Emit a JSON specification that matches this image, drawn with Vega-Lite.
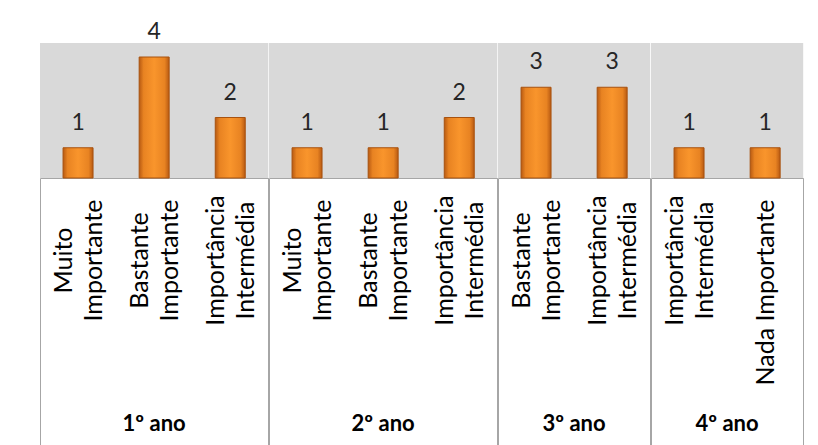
{
  "$schema": "https://vega.github.io/schema/vega-lite/v6.json",
  "background": "white",
  "padding": {"left": 28, "top": 21, "right": 17, "bottom": 0},
  "bounds": "flush",
  "data": {"values": [
    {"year": "1º ano", "cat": "Muito Importante", "value": 1},
    {"year": "1º ano", "cat": "Bastante Importante", "value": 4},
    {"year": "1º ano", "cat": "Importância Intermédia", "value": 2},
    {"year": "2º ano", "cat": "Muito Importante", "value": 1},
    {"year": "2º ano", "cat": "Bastante Importante", "value": 1},
    {"year": "2º ano", "cat": "Importância Intermédia", "value": 2},
    {"year": "3º ano", "cat": "Bastante Importante", "value": 3},
    {"year": "3º ano", "cat": "Importância Intermédia", "value": 3},
    {"year": "4º ano", "cat": "Importância Intermédia", "value": 1},
    {"year": "4º ano", "cat": "Nada Importante", "value": 1}
  ]},
  "facet": {
    "column": {
      "field": "year", "type": "nominal", "sort": null, "title": null,
      "header": {"labelOrient": "bottom", "labelFont": "Lato", "labelFontSize": 22, "labelFontWeight": "bold", "labelColor": "#000000", "labelPadding": 236}
    }
  },
  "spacing": 0,
  "resolve": {"scale": {"x": "independent"}},
  "spec": {
    "width": {"step": 76.1},
    "height": 135,
    "encoding": {
      "x": {
        "field": "cat", "type": "nominal", "sort": null,
        "scale": {"paddingInner": 0, "paddingOuter": 0},
        "axis": {
          "title": null,
          "labelAngle": -90,
          "labelAlign": "center",
          "labelBaseline": "middle",
          "labelLineHeight": 30,
          "labelFont": "Lato",
          "labelFontSize": 25,
          "labelColor": "#000000",
          "labelLimit": 400,
          "labelExpr": "datum.label == 'Nada Importante' ? datum.label : split(datum.label, ' ')",
          "labelPadding": {"condition": {"test": "datum.value == 'Nada Importante'", "value": -153}, "value": -185},
          "labelOffset": {"condition": {"test": "datum.value == 'Nada Importante'", "value": 0}, "value": -15},
          "tickBand": "extent",
          "tickSize": 267,
          "tickColor": "#a6a6a6",
          "tickWidth": 1,
          "tickOpacity": {"condition": {"test": "datum.index < 0 || datum.index == 1", "value": 1}, "value": 0},
          "domainColor": "#a6a6a6",
          "domainWidth": 1
        }
      },
      "y": {"field": "value", "type": "quantitative", "scale": {"domain": [0, 4.463], "nice": false, "zero": true}, "axis": null}
    },
    "layer": [
      {
        "mark": {
          "type": "bar",
          "width": {"band": 0.394},
          "stroke": "#a8520f",
          "strokeWidth": 1,
          "color": {
            "gradient": "linear", "x1": 0, "x2": 1, "y1": 0, "y2": 0,
            "stops": [
              {"offset": 0, "color": "#b85a12"},
              {"offset": 0.15, "color": "#e88322"},
              {"offset": 0.5, "color": "#f9952c"},
              {"offset": 0.85, "color": "#e88322"},
              {"offset": 1, "color": "#b85a12"}
            ]
          }
        }
      },
      {
        "mark": {"type": "text", "baseline": "alphabetic", "dy": -18, "font": "Lato", "fontSize": 23, "color": "#262626"},
        "encoding": {"text": {"field": "value", "type": "quantitative"}}
      }
    ]
  },
  "config": {"view": {"fill": "#d9d9d9", "stroke": null}}
}
